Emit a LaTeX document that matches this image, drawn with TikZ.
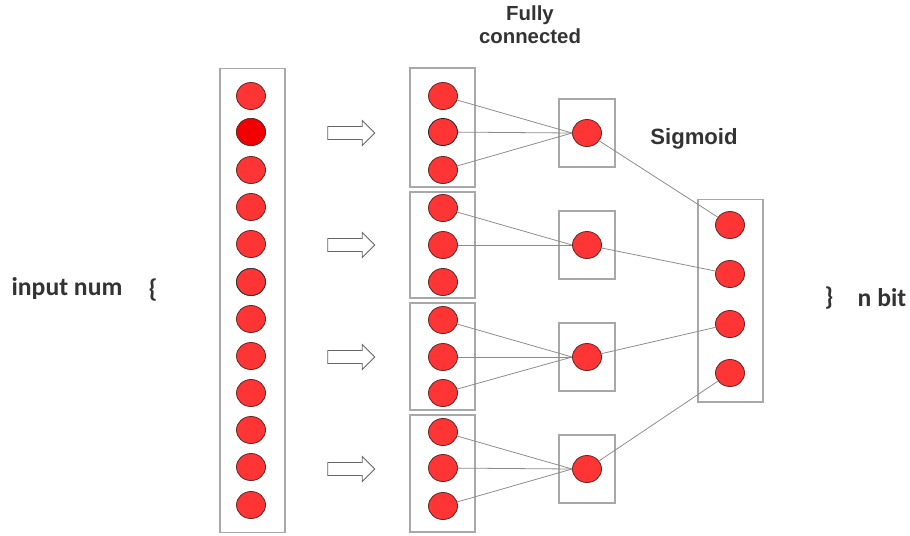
\documentclass[tikz,border=0pt]{standalone}
\usepackage{fontspec}
\setmainfont{Liberation Sans}
\newfontfamily\calib{Carlito}
\usetikzlibrary{shapes.geometric,shapes.arrows}

\definecolor{neuron}{HTML}{FF3535}
\definecolor{neurondark}{HTML}{F00000}
\definecolor{rim}{HTML}{6A2A2A}
\definecolor{boxline}{HTML}{A8A8A8}
\definecolor{wire}{HTML}{8C8C8C}

\tikzset{
    unit/.style={draw=rim, fill=neuron, ellipse, minimum width=0.58cm, minimum height=0.54cm, inner sep=0pt, line width=0.5pt},
    frame/.style={draw=boxline, line width=0.6pt, inner sep=0pt},
    push/.style={draw=black!60, fill=white, single arrow, minimum height=0.94cm, minimum width=0.5cm, single arrow head extend=0.12cm, inner sep=0.12cm, line width=0.5pt},
    wire/.style={draw=wire, line width=0.45pt},
    label/.style={font=\bfseries, text=black!80}
}

\begin{document}
\begin{tikzpicture}[x=0.02cm, y=-0.02cm]
    \useasboundingbox (0,0) rectangle (910,535);

    % input column
    \node[frame, minimum width=1.3cm, minimum height=9.3cm] (inbox) at (252.5,300.5) {};
    \foreach \y [count=\i] in {96,132,170,207,244,282,319,356,393,430,467,505}
        \node[unit] (in\i) at (251,\y) {};
    \node[unit, fill=neurondark] at (in2) {};
    \node[unit, draw=black!80] at (in6) {};

    % split arrows
    \node[push] (a1) at (348,133) {};
    \node[push] (a2) at (348,245) {};
    \node[push] (a3) at (348,357) {};
    \node[push] (a4) at (348,469) {};

    % groups of three
    \node[frame, minimum width=1.3cm, minimum height=2.38cm] (g1) at (442.5,127.5) {};
    \node[frame, minimum width=1.3cm, minimum height=2.12cm] (g2) at (442.5,245) {};
    \node[frame, minimum width=1.3cm, minimum height=2.14cm] (g3) at (442.5,356.5) {};
    \node[frame, minimum width=1.3cm, minimum height=2.34cm] (g4) at (442.5,473.5) {};
    \node[unit] (g1a) at (443,96) {};
    \node[unit, draw=black!85] (g1b) at (443,132) {};
    \node[unit] (g1c) at (443,170) {};
    \node[unit] (g2a) at (443,208) {};
    \node[unit] (g2b) at (443,245) {};
    \node[unit] (g2c) at (443,282) {};
    \node[unit] (g3a) at (443,320) {};
    \node[unit] (g3b) at (443,357) {};
    \node[unit] (g3c) at (443,393) {};
    \node[unit] (g4a) at (443,432) {};
    \node[unit] (g4b) at (443,468) {};
    \node[unit] (g4c) at (443,506) {};

    % hidden units
    \foreach \y [count=\i] in {133,245,357,469} {
        \node[frame, minimum width=1.12cm, minimum height=1.36cm] (hbox\i) at (587,\y) {};
        \node[unit] (h\i) at (587,\y) {};
    }

    % output column
    \node[frame, minimum width=1.3cm, minimum height=4.06cm] (outbox) at (730.5,300.5) {};
    \node[unit] (o1) at (730,225) {};
    \node[unit] (o2) at (730,274) {};
    \node[unit] (o3) at (730,324) {};
    \node[unit] (o4) at (730,373) {};

    % connections
    \draw[wire] (g1a) -- (h1.west);
    \draw[wire] (g1b) -- (h1.west);
    \draw[wire] (g1c) -- (h1.west);
    \draw[wire] (g2a) -- (h2.west);
    \draw[wire] (g2b) -- (h2.west);
    \draw[wire] (g3a) -- (h3.west);
    \draw[wire] (g3b) -- (h3.west);
    \draw[wire] (g3c) -- (h3.west);
    \draw[wire] (g4a) -- (h4.west);
    \draw[wire] (g4b) -- (h4.west);
    \draw[wire] (g4c) -- (h4.west);
    \draw[wire] (h1) -- (o1);
    \draw[wire] (h2) -- (o2);
    \draw[wire] (h3) -- (o3);
    \draw[wire] (h4) -- (o4);

    % labels
    \node[label, align=center, font=\bfseries\fontsize{11.6}{13}\selectfont] (fc) at (530,25) {Fully\\connected};
    \node[label, font=\bfseries\fontsize{12.6}{14}\selectfont] (sig) at (694,139) {Sigmoid};
    \node[label, font=\calib\bfseries\fontsize{14.6}{16}\selectfont] (innum) at (67,289) {input num};
    \node[label, font=\calib\bfseries\fontsize{14.6}{16}\selectfont] (lbr) at (153,290) {\{};
    \node[label, font=\calib\bfseries\fontsize{14.6}{16}\selectfont] (rbr) at (829,298) {\}};
    \node[label, font=\calib\bfseries\fontsize{14.6}{16}\selectfont] (nbit) at (882,298) {n bit};
\end{tikzpicture}
\end{document}
